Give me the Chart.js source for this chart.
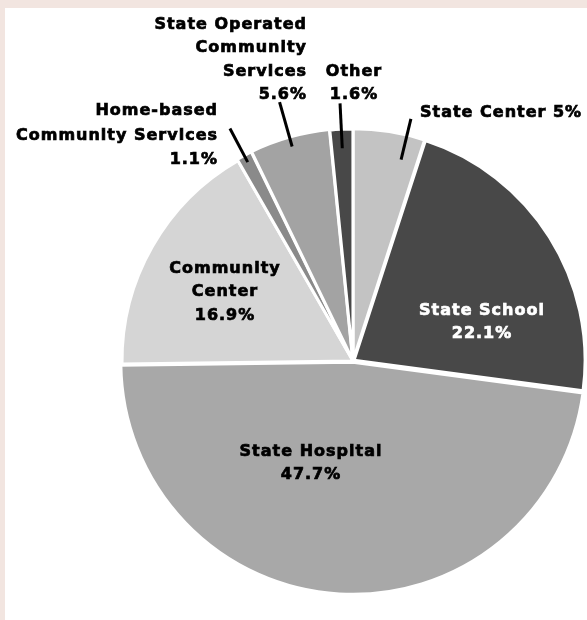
<!DOCTYPE html>
<html>
<head>
<meta charset="utf-8">
<title>Placements by setting</title>
<script src="https://cdn.jsdelivr.net/npm/chart.js@4/dist/chart.umd.min.js"></script>
<style>
  html, body { margin: 0; padding: 0; overflow: hidden; }
  body { width: 587px; height: 620px; background: #f2e5e0; position: relative; }
  #panel { position: absolute; left: 5px; top: 8px; right: 0; bottom: 0; background: #fff; }
  #pie { position: absolute; left: 0; top: 0; }
</style>
</head>
<body>
<div id="panel"></div>
<canvas id="pie" width="587" height="620"></canvas>
<script>
// slices, clockwise from 12 o'clock
const categories = ['State Center', 'State School', 'State Hospital', 'Community Center',
  'Home-based Community Services', 'State Operated Community Services', 'Other'];
const shares = [5, 22.1, 47.7, 16.9, 1.1, 5.6, 1.6];
const fills = ['#c3c3c3', '#484848', '#a8a8a8', '#d5d5d5', '#8a8a8a', '#a3a3a3', '#484848'];
const pull = [3, 5, 5, 0, 3, 4, 2];

// label text lines (value gets appended), where to put them and optional leader line
const labelLines = [
  ['State Center'],
  ['State School'],
  ['State Hospital'],
  ['Community', 'Center'],
  ['Home-based', 'Community Services'],
  ['State Operated', 'Community', 'Services'],
  ['Other']
];
// dx/dy from pie centre to first line, align, same-line value, leader [r0, r1, angle shift deg]
const labelLayout = [
  { dx: 67, dy: -248, align: 'left', inline: true, leader: [204, 246, 4.5] },
  { dx: 129, dy: -50, align: 'center', color: '#fff' },
  { dx: -42, dy: 91, align: 'center' },
  { dx: -128, dy: -92, align: 'center' },
  { dx: -135, dy: -250, align: 'right', lh: 24.5, leader: [222, 260, 0] },
  { dx: -46, dy: -336, align: 'right', leader: [219, 265, 0] },
  { dx: 1, dy: -289, align: 'center', leader: [211, 256, 0] }
];

const pctText = v => v + '%';

const sliceLabels = {
  id: 'sliceLabels',
  afterDatasetsDraw(chart) {
    const ctx = chart.ctx;
    const arcs = chart.getDatasetMeta(0).data;
    ctx.save();
    arcs.forEach((arc, i) => {
      const p = arc.getProps(['x', 'y', 'startAngle', 'endAngle'], true);
      const lay = labelLayout[i];
      const mid = (p.startAngle + p.endAngle) / 2;
      const ox = p.x + Math.cos(mid) * pull[i];
      const oy = p.y + Math.sin(mid) * pull[i];

      if (lay.leader) {
        const a = mid + lay.leader[2] * Math.PI / 180;
        ctx.beginPath();
        ctx.moveTo(ox + Math.cos(a) * lay.leader[0], oy + Math.sin(a) * lay.leader[0]);
        ctx.lineTo(ox + Math.cos(a) * lay.leader[1], oy + Math.sin(a) * lay.leader[1]);
        ctx.lineWidth = 3;
        ctx.strokeStyle = '#000';
        ctx.stroke();
      }

      let lines = labelLines[i].slice();
      if (lay.inline) lines[lines.length - 1] += ' ' + pctText(shares[i]);
      else lines.push(pctText(shares[i]));

      ctx.font = 'bold 16px "DejaVu Sans", sans-serif';
      ctx.letterSpacing = '1px';
      ctx.fillStyle = lay.color || '#000';
      ctx.strokeStyle = lay.color || '#000';
      ctx.lineWidth = 0.7;
      ctx.textAlign = lay.align;
      ctx.textBaseline = 'middle';
      const lh = lay.lh || 23.3;
      lines.forEach((t, k) => {
        const tx = p.x + lay.dx, ty = p.y + lay.dy + k * lh;
        ctx.fillText(t, tx, ty);
        ctx.strokeText(t, tx, ty);
      });
    });
    ctx.restore();
  }
};

new Chart(document.getElementById('pie'), {
  type: 'pie',
  data: {
    labels: categories,
    datasets: [{
      data: shares,
      backgroundColor: fills,
      borderColor: '#ffffff',
      borderWidth: 3,
      offset: pull
    }]
  },
  options: {
    responsive: false,
    animation: false,
    radius: 231,
    layout: { padding: { left: 119, top: 102, right: 0, bottom: 0 } },
    plugins: {
      legend: { display: false },
      tooltip: { enabled: false }
    }
  },
  plugins: [sliceLabels]
});
</script>
</body>
</html>
